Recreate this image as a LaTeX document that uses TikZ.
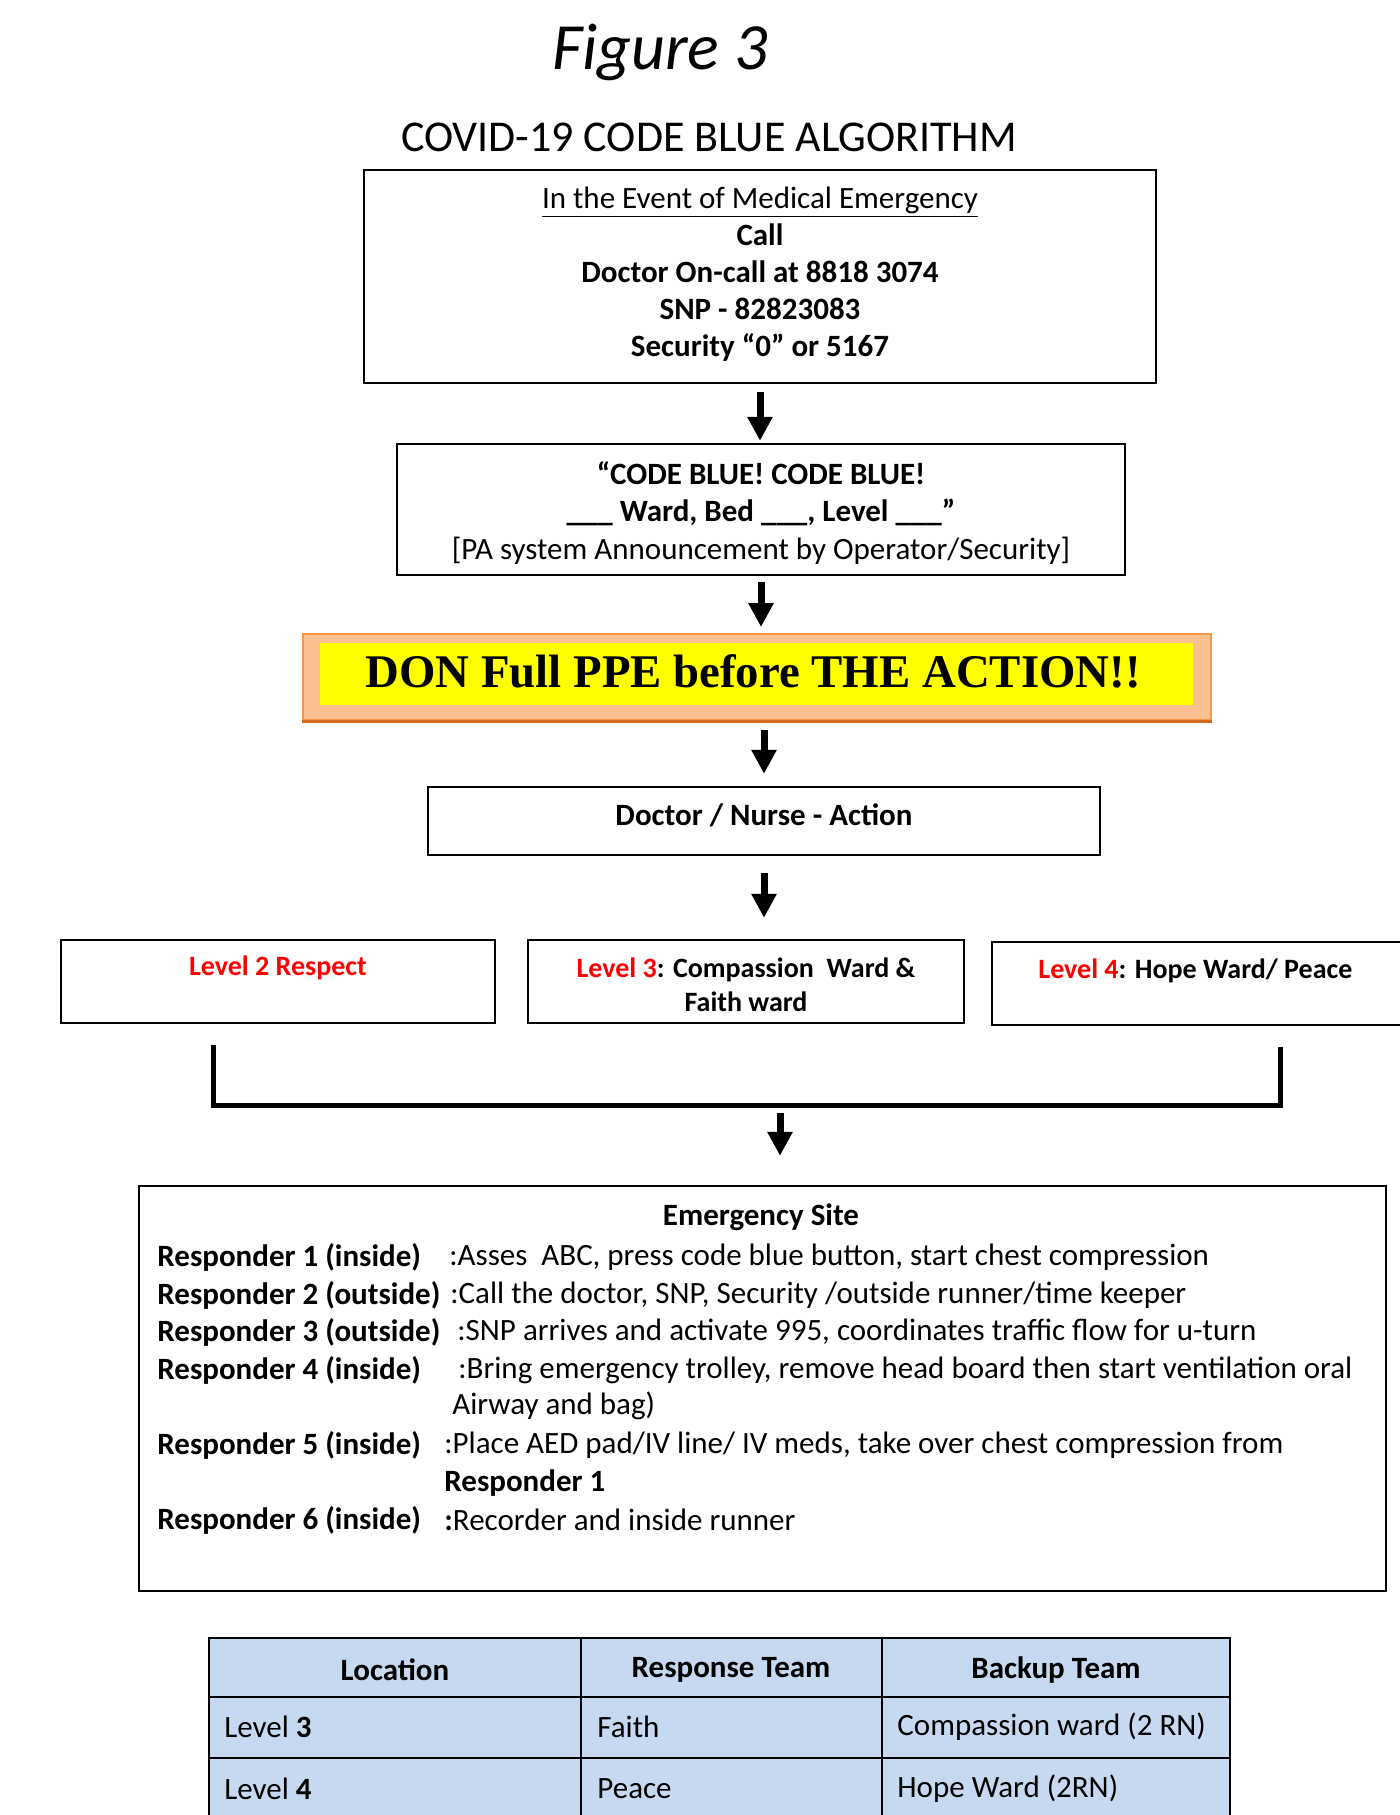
\documentclass[tikz,border=0pt]{standalone}
\usepackage{fontspec}
\setmainfont{Carlito}
\newfontfamily\ppefont{Liberation Serif}
\usetikzlibrary{arrows.meta,fit}

\definecolor{ppeorange}{HTML}{F79646}
\definecolor{ppedark}{HTML}{D26A1E}
\definecolor{ppepeach}{HTML}{FAC090}
\definecolor{ppeyellow}{HTML}{FFFF00}
\definecolor{levelred}{HTML}{FF0000}
\definecolor{tableblue}{HTML}{C6D9F1}

\tikzset{
	box/.style={draw=black, line width=1.25pt, inner sep=0pt},
	txt/.style={inner sep=0pt, font=\fontsize{15.5}{18.5}\selectfont},
	boldtxt/.style={inner sep=0pt, font=\fontsize{15.5}{18.5}\selectfont\bfseries},
	leveltxt/.style={inner sep=0pt, font=\fontsize{14}{17}\selectfont\bfseries},
	flow/.style={line width=3.5pt, -{Triangle[width=12pt,length=12pt]}},
}

\begin{document}
\begin{tikzpicture}[x=0.5pt, y=-0.5pt]
		%%%%% START %%%%%
		\useasboundingbox (0,0) rectangle (1399,1815);
		
		\node[inner sep=0pt, font=\fontsize{33}{40}\selectfont\itshape] (fig) at (660,52) {Figure 3};
		\node[inner sep=0pt, font=\fontsize{22}{26}\selectfont] (title) at (709,137) {COVID-19 CODE BLUE ALGORITHM};
		
		\node[box, fit={(364,170) (1156,383)}] (call) {};
		\node[txt, align=center] (calltxt) at (760,274) {\underline{In the Event of Medical Emergency}\\ \textbf{Call}\\ \textbf{Doctor On-call at 8818 3074}\\ \textbf{SNP - 82823083}\\ \textbf{Security “0” or 5167}};
		
		\node[box, fit={(397,444) (1125,575)}] (announce) {};
		\node[txt, align=center, font=\fontsize{15.5}{18.75}\selectfont] (announcetxt) at (761,513) {\textbf{“CODE BLUE! CODE BLUE!}\\ \textbf{\_\_\_ Ward, Bed \_\_\_, Level \_\_\_”}\\ {[}PA system Announcement by Operator/Security{]}};
		
		\node[fit={(303,634) (1211,720)}, draw=ppeorange, fill=ppepeach, line width=1pt, inner sep=0pt] (ppe) {};
		\draw[ppedark, line width=1.5pt] (ppe.south west) -- (ppe.south east);
		\node[fit={(320,643) (1193,705)}, fill=ppeyellow, inner sep=0pt] (ppein) {};
		\node[inner sep=0pt, font=\ppefont\bfseries\fontsize{23.4}{28}\selectfont] (ppetxt) at (753,671) {DON Full PPE before THE ACTION!!};
		
		\node[box, fit={(428,787) (1100,855)}] (action) {};
		\node[boldtxt] (actiontxt) at (764,815) {Doctor / Nurse - Action};
		
		\node[box, fit={(61,940) (495,1023)}] (lvtwo) {};
		\node[leveltxt, text=levelred] (lvtwotxt) at (278,968) {Level 2 Respect};
		\node[box, fit={(528,940) (964,1023)}] (lvthree) {};
		\node[leveltxt, align=center] (lvthreetxt) at (746,985) {{\color{levelred}Level 3}: Compassion\ \ Ward \&\\ Faith ward};
		\node[box, fit={(992,942) (1420,1025)}] (lvfour) {};
		\node[leveltxt, anchor=west] (lvfourtxt) at (1038,971) {{\color{levelred}Level 4}: Hope Ward/ Peace};
		
		\draw[flow, shorten <=4pt, shorten >=1pt] (call.south) -- (call.south |- announce.north);
		\draw[flow, shorten <=3pt, shorten >=3pt] (announce.south) -- (announce.south |- ppe.north);
		\draw[flow, shorten <=4.5pt, shorten >=6pt] (action.north |- ppe.south) -- (action.north);
		\draw[flow, shorten <=8.5pt, shorten >=10.5pt] (action.south) -- (action.south |- lvthree.north);
		
		% bracket joining the three levels
		\coordinate (brkl) at (213,1045);
		\coordinate (brkr) at (1280,1047);
		\coordinate (brkm) at (780,1105);
		\draw[line width=2.5pt] (brkl) -- (brkl |- brkm) -- (brkr |- brkm) -- (brkr);
		
		\node[box, fit={(139,1186) (1386,1591)}] (site) {};
		\draw[flow, shorten <=4pt, shorten >=14.5pt] (brkm) -- (brkm |- site.north);
		
		\node[boldtxt] (sitetxt) at (761,1217) {Emergency Site};
		\node[boldtxt, anchor=west] (rone) at (157,1257) {Responder 1 (inside)};
		\node[txt, anchor=west] (done) at (449,1257) {:Asses\ \ ABC, press code blue button, start chest compression};
		\node[boldtxt, anchor=west] (rtwo) at (157,1295) {Responder 2 (outside)};
		\node[txt, anchor=west] (dtwo) at (450,1295) {:Call the doctor, SNP, Security /outside runner/time keeper};
		\node[boldtxt, anchor=west] (rthree) at (157,1332) {Responder 3 (outside)};
		\node[txt, anchor=west] (dthree) at (457,1332) {:SNP arrives and activate 995, coordinates traffic flow for u-turn};
		\node[boldtxt, anchor=west] (rfour) at (157,1370) {Responder 4 (inside)};
		\node[txt, anchor=west] (dfour) at (458,1370) {:Bring emergency trolley, remove head board then start ventilation oral};
		\node[txt, anchor=west] (dfourb) at (452,1406) {Airway and bag)};
		\node[boldtxt, anchor=west] (rfive) at (157,1445) {Responder 5 (inside)};
		\node[txt, anchor=west] (dfive) at (444,1445) {:Place AED pad/IV line/ IV meds, take over chest compression from};
		\node[boldtxt, anchor=west] (dfiveb) at (444,1483) {Responder 1};
		\node[boldtxt, anchor=west] (rsix) at (157,1520) {Responder 6 (inside)};
		\node[txt, anchor=west] (dsix) at (444,1520) {\textbf{:}Recorder and inside runner};
		
		% teams table
		\node[fit={(209,1638) (1230,1840)}, draw=black, fill=tableblue, line width=1.25pt, inner sep=0pt] (tab) {};
		\draw[line width=1.25pt] (tab.west |- 0,1697) -- (tab.east |- 0,1697);
		\draw[line width=1.25pt] (tab.west |- 0,1758) -- (tab.east |- 0,1758);
		\draw[line width=1.25pt] (tab.north -| 581,0) -- (tab.south -| 581,0);
		\draw[line width=1.25pt] (tab.north -| 882,0) -- (tab.south -| 882,0);
		
		\node[boldtxt] (hloc) at (395,1670) {Location};
		\node[boldtxt] (hresp) at (731,1670) {Response Team};
		\node[boldtxt] (hback) at (1056,1670) {Backup Team};
		\node[txt, anchor=west] (locthree) at (224,1727) {Level \textbf{3}};
		\node[txt, anchor=west] (respthree) at (597,1727) {Faith};
		\node[txt, anchor=west] (backthree) at (897,1727) {Compassion ward (2 RN)};
		\node[txt, anchor=west] (locfour) at (224,1789) {Level \textbf{4}};
		\node[txt, anchor=west] (respfour) at (597,1789) {Peace};
		\node[txt, anchor=west] (backfour) at (897,1789) {Hope Ward (2RN)};
		%%%%% END %%%%%
\end{tikzpicture}
\end{document}
